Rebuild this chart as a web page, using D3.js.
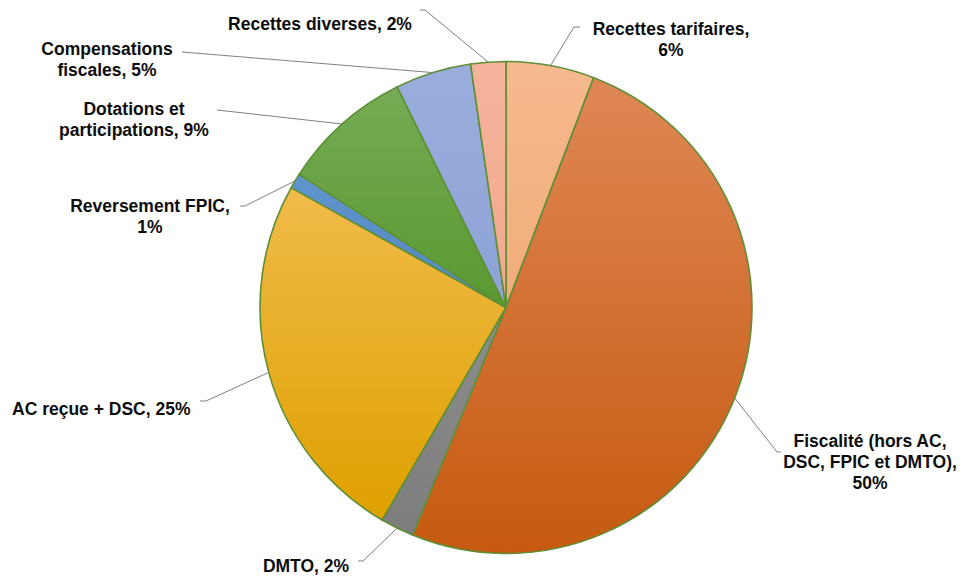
<!DOCTYPE html>
<html>
<head>
<meta charset="utf-8">
<script src="https://cdn.jsdelivr.net/npm/d3@7/dist/d3.min.js"></script>
<style>
  body { margin: 0; background: #fff; }
  svg { display: block; }
</style>
</head>
<body>
<div id="chart"></div>
<script>
// Data (shares of receipts, %)
const categories = [
  'Recettes tarifaires',
  'Fiscalité (hors AC, DSC, FPIC et DMTO)',
  'DMTO',
  'AC reçue + DSC',
  'Reversement FPIC',
  'Dotations et participations',
  'Compensations fiscales',
  'Recettes diverses'
];
const values = [5.8, 50.4, 2.2, 24.7, 1.0, 8.6, 5.0, 2.3];

// slice colours (top / bottom of the gradient)
const colorsTop    = ['#f6b98e', '#df8755', '#8e8e8e', '#f0bb4a', '#5f95cc', '#75ab55', '#9aaedd', '#f5b39c'];
const colorsBottom = ['#f2ac7b', '#c65a10', '#7d7d7d', '#dfa000', '#5488c0', '#5a9930', '#8ea3d6', '#f2a88e'];

// label layout: anchor x, first baseline y, words per line, leader points on the label side
const labelLayout = [
  { x: 671, y: 35,  anchor: 'middle', wrap: [2, 1],    leader: [[580, 27], [574, 27]] },
  { x: 870, y: 447, anchor: 'middle', wrap: [3, 4, 1], leader: [[781, 452], [777, 452]] },
  { x: 306, y: 572, anchor: 'middle', wrap: [3],       leader: [[358, 561], [363, 561]] },
  { x: 12,  y: 415, anchor: 'start',  wrap: [5],       leader: [[200, 401], [206, 401]] },
  { x: 150, y: 212, anchor: 'middle', wrap: [2, 1],    leader: [[240, 206], [245, 206]] },
  { x: 134, y: 115, anchor: 'middle', wrap: [2, 2],    leader: [[217, 110]] },
  { x: 107, y: 55,  anchor: 'middle', wrap: [1, 2],    leader: [[182, 52]] },
  { x: 320, y: 30,  anchor: 'middle', wrap: [3],       leader: [[420, 10], [425, 10]] }
];

const width = 965, height = 576;
const cx = 506, cy = 307.5, radius = 246;
const lineHeight = 21;

const total = d3.sum(values);
const data = categories.map((c, i) => ({ name: c, value: values[i], i }));

const svg = d3.select('#chart').append('svg')
  .attr('width', width)
  .attr('height', height);

// gradients, one per slice
const defs = svg.append('defs');
data.forEach(d => {
  const g = defs.append('linearGradient')
    .attr('id', 'grad' + d.i)
    .attr('x1', 0).attr('y1', 0).attr('x2', 0).attr('y2', 1);
  g.append('stop').attr('offset', '0%').attr('stop-color', colorsTop[d.i]);
  g.append('stop').attr('offset', '100%').attr('stop-color', colorsBottom[d.i]);
});

const pie = d3.pie().value(d => d.value).sort(null);
const arc = d3.arc().innerRadius(0).outerRadius(radius);
const arcs = pie(data);

const g = svg.append('g').attr('transform', `translate(${cx},${cy})`);

g.selectAll('path.slice')
  .data(arcs)
  .enter()
  .append('path')
  .attr('class', 'slice')
  .attr('d', arc)
  .attr('fill', d => `url(#grad${d.data.i})`)
  .attr('stroke', '#5e8f35')
  .attr('stroke-width', 1.6)
  .attr('stroke-linejoin', 'round');

// leader lines from each label to the middle of its slice edge
const edgePoint = d => {
  const a = (d.startAngle + d.endAngle) / 2;
  return [cx + radius * Math.sin(a), cy - radius * Math.cos(a)];
};

svg.selectAll('path.leader')
  .data(arcs)
  .enter()
  .append('path')
  .attr('class', 'leader')
  .attr('d', d => d3.line()(labelLayout[d.data.i].leader.concat([edgePoint(d)])))
  .attr('fill', 'none')
  .attr('stroke', '#808080')
  .attr('stroke-width', 1);

// labels
const labels = svg.selectAll('text.label')
  .data(arcs)
  .enter()
  .append('text')
  .attr('class', 'label')
  .attr('text-anchor', d => labelLayout[d.data.i].anchor)
  .style('font-family', '"Liberation Sans", Arial, sans-serif')
  .style('font-size', '17.5px')
  .style('font-weight', 'bold')
  .attr('fill', '#0d0d0d');

labels.each(function (d) {
  const lay = labelLayout[d.data.i];
  const pct = Math.round(d.data.value / total * 100);
  const words = `${d.data.name}, ${pct}%`.split(' ');
  let k = 0;
  lay.wrap.forEach((n, li) => {
    d3.select(this).append('tspan')
      .attr('x', lay.x)
      .attr('y', lay.y + li * lineHeight)
      .text(words.slice(k, k + n).join(' '));
    k += n;
  });
});
</script>
</body>
</html>
